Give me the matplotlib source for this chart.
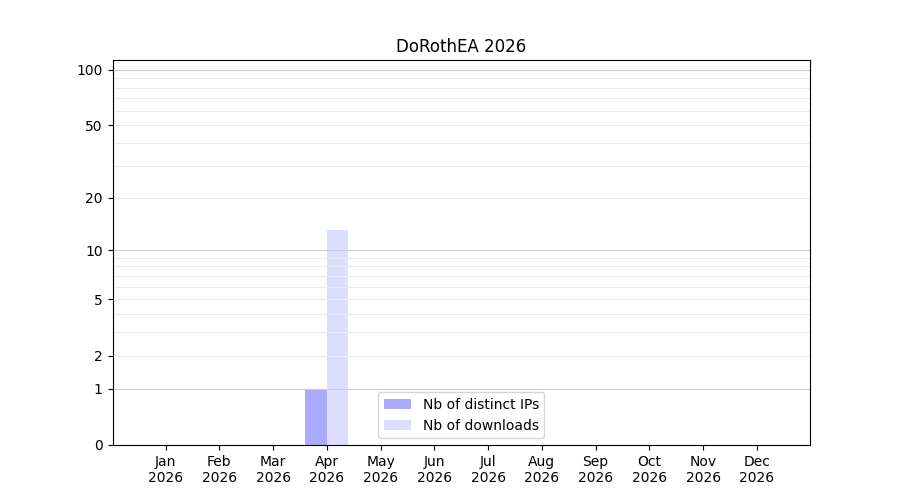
import matplotlib
matplotlib.use("Agg")
import matplotlib.pyplot as plt
import numpy as np

months = ["Jan", "Feb", "Mar", "Apr", "May", "Jun", "Jul", "Aug", "Sep", "Oct", "Nov", "Dec"]
year = "2026"
distinct_ips = [0, 0, 0, 1, 0, 0, 0, 0, 0, 0, 0, 0]
downloads = [0, 0, 0, 13, 0, 0, 0, 0, 0, 0, 0, 0]
yticks = [0, 1, 2, 5, 10, 20, 50, 100]
major_grid = [1, 10, 100]
minor_grid = [2, 3, 4, 5, 6, 7, 8, 9, 20, 30, 40, 50, 60, 70, 80, 90]

fig, ax = plt.subplots(figsize=(9, 5), dpi=100)
ax.set_yscale("function", functions=(lambda y: np.log10(1 + np.asarray(y)),
                                     lambda y: 10 ** np.asarray(y) - 1))
x = np.arange(1, len(months) + 1)
ax.bar(x - 0.2, distinct_ips, width=0.4, color="#aaaaff", label="Nb of distinct IPs")
ax.bar(x + 0.2, downloads, width=0.4, color="#ddddff", label="Nb of downloads")
for v in minor_grid:
    ax.axhline(v, color="#ebebeb", linewidth=0.8)
for v in major_grid:
    ax.axhline(v, color="#cccccc", linewidth=0.8)
ax.set_ylim(0, 113)
ax.set_yticks(yticks)
ax.set_yticklabels([str(t) for t in yticks])
ax.minorticks_off()
ax.set_xticks(x)
ax.set_xticklabels([f"{m}\n{year}" for m in months])
ax.set_title("DoRothEA 2026")
ax.legend(loc="lower center")
fig.savefig("out.png")
